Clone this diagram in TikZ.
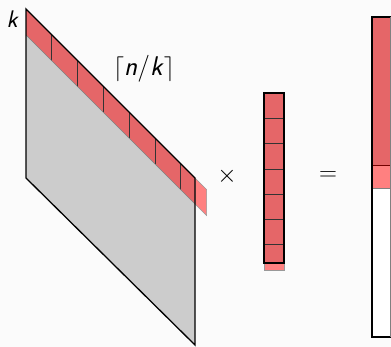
\documentclass[tikz,border=0pt]{standalone}
\usepackage{amsmath}
\usepackage{xcolor}
\usepackage{tikz}
\usetikzlibrary{calc}
\definecolor{bandred}{RGB}{229,102,104}
\definecolor{overred}{RGB}{255,128,128}
\definecolor{matgray}{RGB}{204,204,204}
\definecolor{bg}{RGB}{251,251,251}

\begin{document}
\begin{tikzpicture}[x=1pt,y=-1pt,every node/.style={font=\fontsize{23}{27}\selectfont\sffamily},
          outline/.style={black,line width=1.3pt,line join=miter},
          cell/.style={draw=black!80,line width=0.7pt},
          over/.style={fill=overred,draw=gray!80,line width=0.5pt}]
        \useasboundingbox[fill=bg] (0,0) rectangle (391,347);
        % matrix
        \fill[matgray] (26,9) -- (195,178) -- (195,345) -- (26,178) -- cycle;
        \fill[bandred] (26,9) -- (195,178) -- (195,204) -- (26,35) -- cycle;
        \filldraw[over] (195,178) -- (206.6,189.6) -- (206.6,215.6) -- (195,204) -- cycle;
        \foreach \i in {1,...,6}
          \draw[cell] ({26+25.8*\i},{9+25.8*\i}) -- ++(0,26);
        \draw[gray,line width=0.6pt] (26,35) -- (195,204);
        \draw[outline] (26,9) -- (195,178) -- (195,345) -- (26,178) -- cycle;
        \node[font=\fontsize{24}{28}\selectfont\sffamily\itshape] (k) at (12,19) {k};
        \node[font=\fontsize{27}{32}\selectfont\sffamily] (blocks) at (144,69) {$\lceil$\textit{n}/\textit{k}$\rceil$};
        % vector
        \node (times) at (227,176) {$\times$};
        \filldraw[over] (264,263) rectangle (284,270);
        \fill[bandred] (264,93) rectangle (284,263);
        \foreach \j in {1,...,6}
          \draw[cell] (264,{93+25.3*\j}) -- ++(20,0);
        \draw[outline] (264,93) rectangle (284,263);
        % result
        \node (equals) at (328,176) {$=$};
        \fill[white] (372,188) rectangle (392,337);
        \fill[bandred] (372,17) rectangle (392,166);
        \fill[overred] (372,166) rectangle (392,188);
        \draw[red!45!black,line width=1pt] (372,166) -- (392,166);
        \draw[gray,line width=0.6pt] (372,188) -- (392,188);
        \draw[outline] (392,17) -- (372,17) -- (372,337) -- (392,337);
        \draw[gray,line width=0.8pt] (390.5,17) -- (390.5,337);
      \end{tikzpicture}
\end{document}
